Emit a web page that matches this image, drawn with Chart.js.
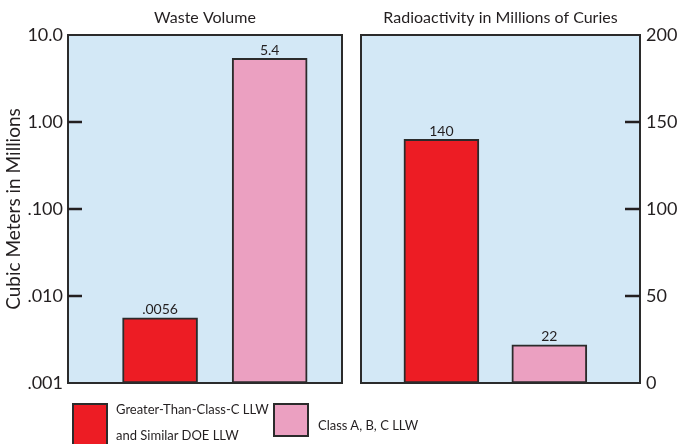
<!DOCTYPE html>
<html>
<head>
<meta charset="utf-8">
<script src="https://cdn.jsdelivr.net/npm/chart.js@4.4.1/dist/chart.umd.min.js"></script>
<style>
  body { margin: 0; background: #fff; width: 678px; height: 444px; overflow: hidden; position: relative; font-family: Lato, sans-serif; color: #231f20; }
  .wrap { position: absolute; top: 0; }
  #legend .box { position: absolute; border: 2px solid #2b2b2b; box-sizing: border-box; }
  #legend .txt { position: absolute; font-size: 13px; line-height: 26px; white-space: pre; }
</style>
</head>
<body>
<div class="wrap" style="left:0;width:345px;height:400px"><canvas id="chart-volume"></canvas></div>
<div class="wrap" style="left:355px;width:323px;height:400px"><canvas id="chart-curies"></canvas></div>
<div id="legend"></div>

<script>
// series (same order in both panels)
const seriesNames = ['Greater-Than-Class-C LLW\nand Similar DOE LLW', 'Class A, B, C LLW'];
const seriesColors = ['#ed1c24', '#eba0c1'];

// left panel: waste volume, cubic meters in millions (log scale)
const volumeValues = [0.0056, 5.4];
const volumeLabels = ['.0056', '5.4'];
const volumeTicks = [0.001, 0.01, 0.1, 1, 10];
const volumeTickLabels = ['.001', '.010', '.100', '1.00', '10.0'];

// right panel: radioactivity, millions of curies
const curieValues = [140, 22];
const curieLabels = ['140', '22'];
const curieTicks = [0, 50, 100, 150, 200];

const FONT = 'Lato, sans-serif';
const INK = '#231f20';

// panel background, frame, inward tick marks, title and bar labels
const panelPlugin = {
    id: 'panel',
    beforeDraw(chart) {
        const a = chart.chartArea, ctx = chart.ctx;
        ctx.save();
        ctx.fillStyle = '#d3e8f6';
        ctx.fillRect(a.left, a.top, a.right - a.left, a.bottom - a.top);
        ctx.restore();
    },
    afterDatasetsDraw(chart) {
        const a = chart.chartArea, ctx = chart.ctx;
        const opts = chart.options.plugins.panel;
        ctx.save();
        ctx.strokeStyle = '#2b2b2b';
        ctx.lineWidth = 2;
        ctx.strokeRect(a.left, a.top, a.right - a.left, a.bottom - a.top);

        // tick marks inside the frame
        const y = chart.scales.y;
        ctx.strokeStyle = INK;
        ctx.lineWidth = 2.5;
        y.ticks.forEach(t => {
            const py = y.getPixelForValue(t.value);
            if (py <= a.top + 2 || py >= a.bottom - 2) return;
            ctx.beginPath();
            if (opts.side === 'left') { ctx.moveTo(a.left, py); ctx.lineTo(a.left + 14, py); }
            else { ctx.moveTo(a.right - 15, py); ctx.lineTo(a.right, py); }
            ctx.stroke();
        });

        // title
        ctx.fillStyle = INK;
        ctx.font = '16px ' + FONT;
        ctx.textAlign = 'center';
        ctx.textBaseline = 'middle';
        ctx.fillText(opts.title, (a.left + a.right) / 2, 18);

        // value labels
        ctx.font = '14px ' + FONT;
        ctx.textBaseline = 'bottom';
        chart.getDatasetMeta(0).data.forEach((bar, i) => {
            ctx.fillText(opts.labels[i], bar.x, bar.y - 1);
        });
        ctx.restore();
    }
};

function makeChart(canvasId, values, cfg) {
    const ctx = document.getElementById(canvasId).getContext('2d');
    return new Chart(ctx, {
        type: 'bar',
        data: {
            datasets: [{
                data: values.map((v, i) => ({ x: i + 1, y: v })),
                backgroundColor: seriesColors,
                borderColor: '#2b2b2b',
                borderWidth: 2,
                borderSkipped: false,
                barThickness: 75
            }]
        },
        options: {
            responsive: true,
            maintainAspectRatio: false,
            animation: false,
            layout: { padding: cfg.padding },
            scales: {
                x: { type: 'linear', display: false, offset: false, min: cfg.xMin, max: cfg.xMax },
                y: cfg.y
            },
            plugins: {
                legend: { display: false },
                tooltip: { enabled: false },
                panel: { side: cfg.side, title: cfg.title, labels: cfg.labels }
            }
        },
        plugins: [panelPlugin]
    });
}

makeChart('chart-volume', volumeValues, {
    side: 'left',
    title: 'Waste Volume',
    labels: volumeLabels,
    padding: { top: 35, bottom: 17, right: 3, left: 0 },
    xMin: 0.16, xMax: 2.66,
    y: {
        type: 'logarithmic',
        position: 'left',
        min: volumeTicks[0],
        max: volumeTicks[volumeTicks.length - 1],
        afterBuildTicks: s => { s.ticks = volumeTicks.map(v => ({ value: v })); },
        afterFit: s => { s.width = 68; },
        grid: { display: false, drawTicks: false },
        border: { display: false },
        ticks: {
            padding: 5,
            color: INK,
            font: { family: FONT, size: 18 },
            callback: v => volumeTickLabels[volumeTicks.indexOf(v)]
        },
        title: {
            display: true,
            text: 'Cubic Meters in Millions',
            color: INK,
            font: { family: FONT, size: 19 },
            padding: { top: 2, bottom: 0 }
        }
    }
});

makeChart('chart-curies', curieValues, {
    side: 'right',
    title: 'Radioactivity in Millions of Curies',
    labels: curieLabels,
    padding: { top: 35, bottom: 17, right: 0, left: 6 },
    xMin: 0.255, xMax: 2.84,
    y: {
        type: 'linear',
        position: 'right',
        min: curieTicks[0],
        max: curieTicks[curieTicks.length - 1],
        afterBuildTicks: s => { s.ticks = curieTicks.map(v => ({ value: v })); },
        afterFit: s => { s.width = 38; },
        grid: { display: false, drawTicks: false },
        border: { display: false },
        ticks: {
            padding: 6,
            color: INK,
            font: { family: FONT, size: 18 }
        }
    }
});

// legend built from the series arrays
const legend = document.getElementById('legend');
const legendPos = [
    { box: [72, 403, 36, 48], txt: [116, 396] },
    { box: [273, 403, 36, 34], txt: [318, 412] }
];
seriesNames.forEach((name, i) => {
    const p = legendPos[i];
    const box = document.createElement('div');
    box.className = 'box';
    box.style.cssText += `left:${p.box[0]}px;top:${p.box[1]}px;width:${p.box[2]}px;height:${p.box[3]}px;background:${seriesColors[i]}`;
    legend.appendChild(box);
    const txt = document.createElement('div');
    txt.className = 'txt';
    txt.style.left = p.txt[0] + 'px';
    txt.style.top = p.txt[1] + 'px';
    txt.textContent = name;
    legend.appendChild(txt);
});
</script>
</body>
</html>
